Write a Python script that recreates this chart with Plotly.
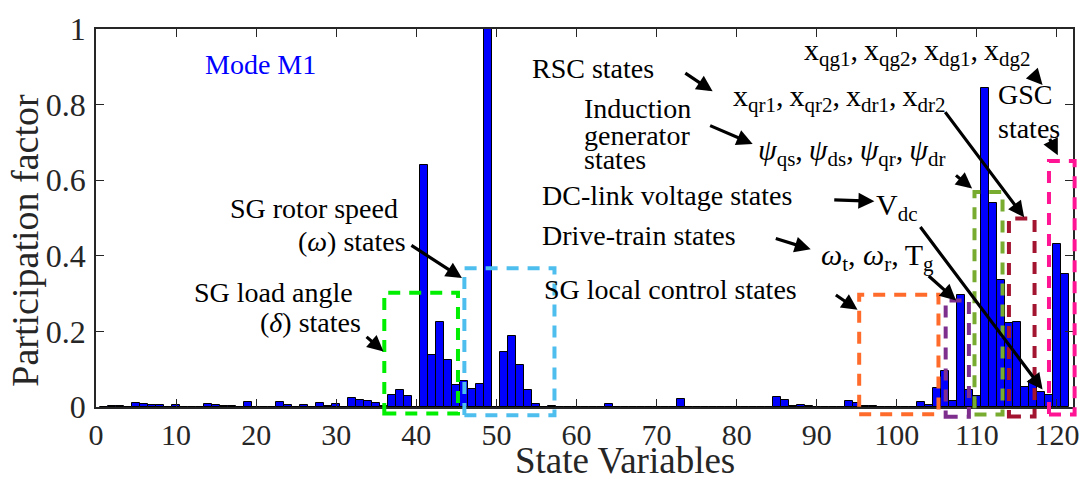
import plotly.graph_objects as go

# ---------------- data ----------------
state_index = list(range(1, 122))
participation = [
    0.001, 0.002, 0.002, 0.001, 0.010, 0.008, 0.006, 0.006, 0.001, 0.005,   # 1-10
    0.001, 0.001, 0.001, 0.008, 0.005, 0.002, 0.002, 0.001, 0.013, 0.001,   # 11-20
    0.001, 0.001, 0.013, 0.006, 0.001, 0.004, 0.001, 0.011, 0.003, 0.008,   # 21-30
    0.001, 0.023, 0.018, 0.017, 0.011, 0.002, 0.031, 0.044, 0.029, 0.000,   # 31-40
    0.641, 0.138, 0.224, 0.124, 0.057, 0.069, 0.048, 0.062, 1.000, 0.000,   # 41-50
    0.145, 0.187, 0.110, 0.046, 0.009, 0.001, 0.002, 0.001, 0.001, 0.001,   # 51-60
    0.001, 0.001, 0.001, 0.007, 0.001, 0.001, 0.000, 0.000, 0.000, 0.000,   # 61-70
    0.000, 0.001, 0.022, 0.000, 0.000, 0.000, 0.000, 0.000, 0.000, 0.000,   # 71-80
    0.000, 0.001, 0.001, 0.001, 0.027, 0.019, 0.002, 0.005, 0.003, 0.001,   # 81-90
    0.001, 0.001, 0.001, 0.015, 0.010, 0.002, 0.002, 0.001, 0.001, 0.001,   # 91-100
    0.001, 0.001, 0.013, 0.005, 0.051, 0.096, 0.017, 0.295, 0.045, 0.028,   # 101-110
    0.845, 0.541, 0.335, 0.222, 0.225, 0.054, 0.069, 0.040, 0.032, 0.430,   # 111-120
    0.352,                                                                  # 121
]
x_ticks = list(range(0, 121, 10))
y_ticks = [0, 0.2, 0.4, 0.6, 0.8, 1]
y_tick_labels = ["0", "0.2", "0.4", "0.6", "0.8", "1"]
X_MAX = 122
x_title = "State Variables"
y_title = "Participation factor"

# dashed group boxes: (x0, x1, y0, y1, colour)
group_boxes = [
    (36.0, 45.2, -0.017, 0.302, "#00ee00"),
    (46.0, 57.25, -0.022, 0.367, "#4dbeee"),
    (95.3, 105.2, -0.019, 0.297, "#ff6b2b"),
    (106.1, 109.0, -0.026, 0.282, "#7e2f8e"),
    (109.7, 113.2, -0.020, 0.569, "#77ac30"),
    (114.0, 117.2, -0.025, 0.499, "#a2142f"),
    (119.0, 122.2, -0.020, 0.651, "#ff1493"),
]

# arrows: (tail_x, tail_y, tip_x, tip_y)
arrows = [
    (33.6, 0.189, 35.9, 0.147),
    (39.2, 0.430, 45.7, 0.341),
    (73.4, 0.886, 77.0, 0.835),
    (76.5, 0.746, 82.0, 0.696),
    (92.0, 0.548, 97.2, 0.544),
    (84.7, 0.447, 89.25, 0.417),
    (92.2, 0.299, 95.1, 0.257),
    (103.8, 0.350, 107.4, 0.282),
    (107.2, 0.616, 109.4, 0.578),
    (102.8, 0.480, 118.2, 0.046),
    (105.9, 0.784, 115.9, 0.502),
    (116.75, 0.886, 118.2, 0.852),
    (119.0, 0.713, 120.1, 0.666),
]

# text labels: (text, x, y, xanchor, colour)
labels = [
    ("Mode M1", 13.4, 0.905, "left", "#0000ff"),
    ("SG rotor speed", 38.0, 0.525, "right", "#000000"),
    ("(<i>ω</i>) states", 38.9, 0.439, "right", "#000000"),
    ("SG load angle", 32.4, 0.303, "right", "#000000"),
    ("(<i>δ</i>) states", 33.4, 0.224, "right", "#000000"),
    ("RSC states", 54.25, 0.896, "left", "#000000"),
    ("Induction", 60.7, 0.791, "left", "#000000"),
    ("generator", 60.7, 0.718, "left", "#000000"),
    ("states", 60.7, 0.654, "left", "#000000"),
    ("DC-link voltage states", 55.5, 0.559, "left", "#000000"),
    ("Drive-train states", 55.5, 0.455, "left", "#000000"),
    ("SG local control states", 55.7, 0.312, "left", "#000000"),
    ("GSC", 112.4, 0.826, "left", "#000000"),
    ("states", 112.4, 0.738, "left", "#000000"),
]
TS = "\u2009"
math_labels = [
    (f"x<sub>qg1</sub>,{TS}x<sub>qg2</sub>,{TS}x<sub>dg1</sub>,{TS}x<sub>dg2</sub>", 88.2, 0.94),
    (f"x<sub>qr1</sub>,{TS}x<sub>qr2</sub>,{TS}x<sub>dr1</sub>,{TS}x<sub>dr2</sub>", 79.25, 0.818),
    (f"<i>ψ</i><sub>qs</sub>,{TS}<i>ψ</i><sub>ds</sub>,{TS}<i>ψ</i><sub>qr</sub>,{TS}<i>ψ</i><sub>dr</sub>", 82.4, 0.675),
    ("V<sub>dc</sub>", 97.1, 0.53),
    (f"<i>ω</i><sub>t</sub>, <i>ω</i><sub>r</sub>,{TS}T<sub>g</sub>", 90.25, 0.398),
]

FONT = "Liberation Serif"
AXC = "#262626"

fig = go.Figure()
fig.add_trace(go.Bar(
    x=state_index, y=participation, width=1.0,
    marker=dict(color="#0000ff", line=dict(color="#000000", width=1)),
    showlegend=False,
))

for x0, x1, y0, y1, col in group_boxes:
    fig.add_shape(type="rect", xref="paper", yref="paper",
                  x0=x0 / X_MAX, x1=x1 / X_MAX, y0=y0, y1=y1,
                  line=dict(color=col, width=4, dash="12px,9px"),
                  fillcolor="rgba(0,0,0,0)", layer="above")

annotations = []
for tx, ty, hx, hy in arrows:
    annotations.append(dict(x=hx, y=hy, ax=tx, ay=ty, xref="x", yref="y",
                            axref="x", ayref="y", text="", showarrow=True,
                            arrowhead=2, arrowsize=1, arrowwidth=3.2,
                            arrowcolor="#000000"))
for t, x, y, xa, col in labels:
    annotations.append(dict(x=x, y=y, xref="x", yref="y", text=t, showarrow=False,
                            xanchor=xa, yanchor="middle",
                            font=dict(family=FONT, size=28, color=col)))
for t, x, y in math_labels:
    annotations.append(dict(x=x, y=y, xref="x", yref="y", text=t, showarrow=False,
                            xanchor="left", yanchor="middle",
                            font=dict(family=FONT, size=30, color="#000000")))
# axis titles
annotations.append(dict(x=66, y=-0.141, xref="x", yref="paper", text=x_title,
                        showarrow=False, xanchor="center", yanchor="middle",
                        borderpad=0,
                        font=dict(family=FONT, size=37, color=AXC)))
annotations.append(dict(x=-71 / 977, y=0.44, xref="paper", yref="y",
                        text=y_title, showarrow=False, textangle=-90,
                        xanchor="center", yanchor="middle",
                        font=dict(family=FONT, size=38, color=AXC)))

axis_common = dict(showline=True, linecolor=AXC, linewidth=1.5, mirror="ticks",
                   ticks="inside", ticklen=8, tickwidth=1.2, tickcolor=AXC,
                   showgrid=False, zeroline=False, ticklabeloverflow="allow")

fig.update_layout(
    width=1091, height=479,
    margin=dict(l=96, r=18, t=11, b=72),
    paper_bgcolor="white", plot_bgcolor="white",
    bargap=0,
    xaxis=dict(range=[0, X_MAX], tickvals=x_ticks, ticklabelstandoff=0,
               tickfont=dict(family=FONT, size=30, color=AXC), **axis_common),
    yaxis=dict(range=[0, 1], tickvals=y_ticks, ticktext=y_tick_labels,
               ticklabelstandoff=2,
               tickfont=dict(family=FONT, size=32, color=AXC), **axis_common),
    annotations=annotations,
)

fig.write_html("out.html")
